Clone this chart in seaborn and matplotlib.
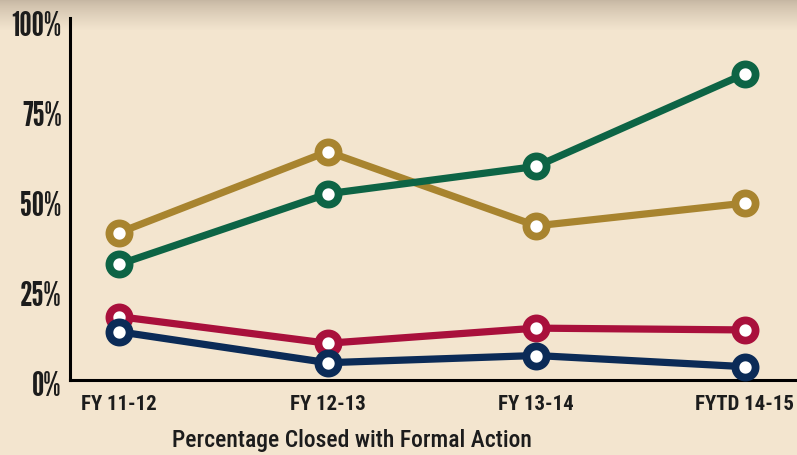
import numpy as np
import pandas as pd
import matplotlib
matplotlib.use("Agg")
import matplotlib.pyplot as plt
import matplotlib.transforms as mtransforms
import seaborn as sns

# ---- data ----
periods = ["FY 11-12", "FY 12-13", "FY 13-14", "FYTD 14-15"]
gold_vals = [40.9, 63.4, 42.8, 49.1]
green_vals = [32.1, 51.7, 59.3, 85.0]
red_vals = [17.6, 10.2, 14.4, 13.9]
navy_vals = [13.4, 4.8, 6.8, 3.7]
y_ticks = [0, 25, 50, 75, 100]
y_tick_labels = ["0%", "25%", "50%", "75%", "100%"]
x_label = "Percentage Closed with Formal Action"

series_names = ["gold", "green", "red", "navy"]
series_values = {"gold": gold_vals, "green": green_vals,
                 "red": red_vals, "navy": navy_vals}
colors = {"gold": "#a8842f", "green": "#0d6445",
          "red": "#a9103c", "navy": "#0b2b57"}

rows = []
for name in series_names:
    for i, (p, v) in enumerate(zip(periods, series_values[name])):
        rows.append({"series": name, "period": p, "pos": i, "value": v})
df = pd.DataFrame(rows)

sns.set_theme(style="white")
plt.rcParams["font.family"] = ["IBM Plex Sans Condensed", "DejaVu Sans"]
YFONT = ["League Gothic", "Oswald", "Antonio", "IBM Plex Sans Condensed", "DejaVu Sans"]
XFONT = ["Roboto Condensed", "IBM Plex Sans Condensed", "DejaVu Sans"]

W, H = 797, 455
BG = "#f3e5cf"
fig = plt.figure(figsize=(W / 100, H / 100), dpi=100)
fig.patch.set_facecolor(BG)

# subtle top shadow
bg = fig.add_axes([0, 0, 1, 1], zorder=0)
bg.axis("off")
base = np.array([0xf3, 0xe5, 0xcf]) / 255.0
shade = np.array([0.78, 0.72, 0.64])
rowsn = np.arange(H)
t = np.clip(rowsn / 30.0, 0, 1) ** 0.8
img = (shade[None, :] * (1 - t[:, None]) + base[None, :] * t[:, None])
img = np.repeat(img[:, None, :], 4, axis=1)
bg.imshow(img, aspect="auto", extent=[0, 1, 0, 1], origin="upper")

ax = fig.add_axes([70 / W, 75 / H, 727 / W, 362 / H], zorder=1)
ax.set_facecolor("none")

for k, name in enumerate(series_names):
    sub = df[df["series"] == name]
    c = colors[name]
    sns.lineplot(data=sub, x="pos", y="value", ax=ax, color=c,
                 linewidth=5.2, marker="o", markersize=14.5,
                 markerfacecolor="white", markeredgecolor=c,
                 markeredgewidth=5.6, errorbar=None, legend=False,
                 sort=False, zorder=3 + k, clip_on=False)

ax.set_xlim(-0.235, 3.25)
ax.set_ylim(0, 100.5)
ax.set_xticks(range(len(periods)))
ax.set_xticklabels(periods, fontsize=15, fontweight="bold", color="#1c1c1c",
                   family=XFONT)
ax.set_yticks(y_ticks)
ax.set_yticklabels(y_tick_labels, fontsize=25, color="#1c1c1c", family=YFONT)
ax.tick_params(axis="x", length=0, pad=11)
ax.tick_params(axis="y", length=0, pad=6)
shift = mtransforms.ScaledTranslation(0, -4 / 100, fig.dpi_scale_trans)
for lab in ax.get_yticklabels():
    lab.set_transform(lab.get_transform() + shift)
ax.set_xlabel(x_label, fontsize=17, fontweight="medium", color="#1c1c1c",
              family=XFONT)
ax.set_ylabel("")
ax.xaxis.set_label_coords((352 - 70) / 727, -(429 - 380) / 362)
ax.xaxis.label.set_verticalalignment("top")

for s in ["top", "right"]:
    ax.spines[s].set_visible(False)
for s in ["left", "bottom"]:
    ax.spines[s].set_color("black")
    ax.spines[s].set_linewidth(2.2)
ax.grid(False)

fig.savefig("out.png", dpi=100, facecolor=fig.get_facecolor())
